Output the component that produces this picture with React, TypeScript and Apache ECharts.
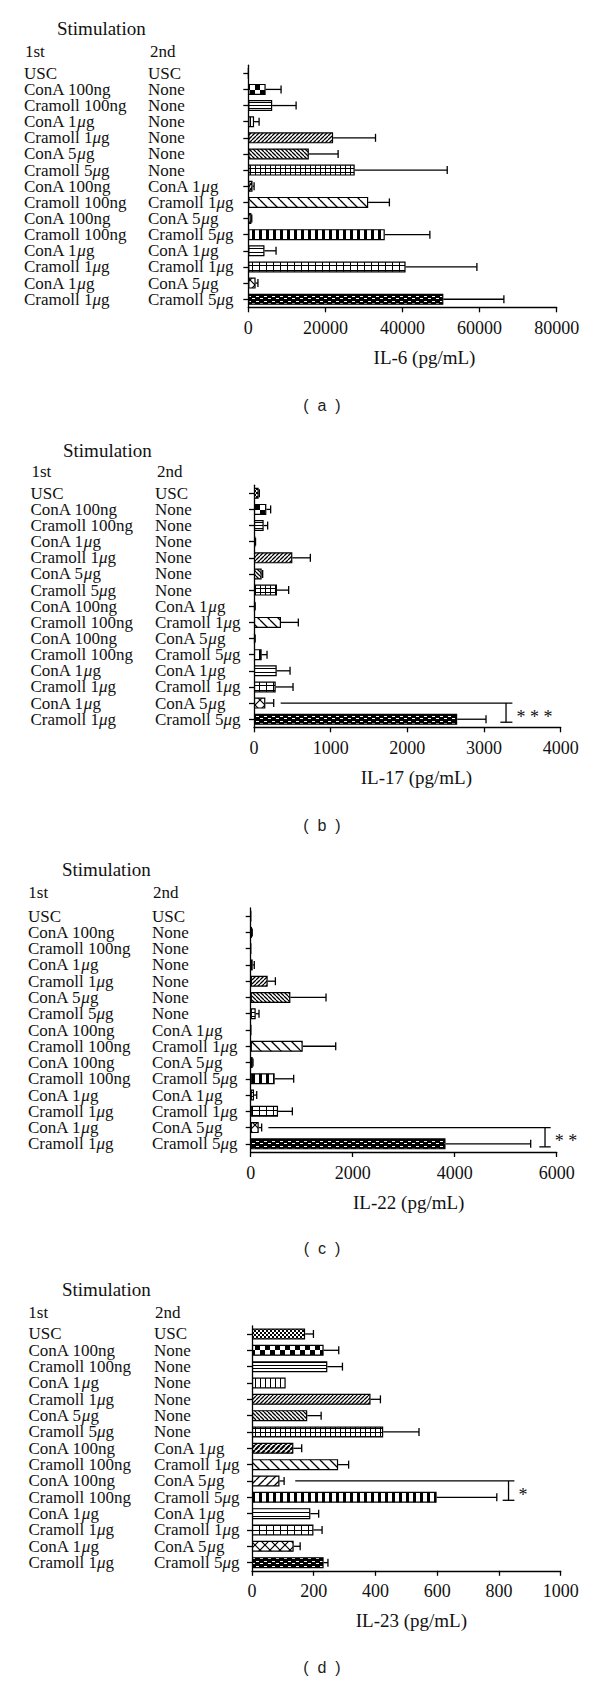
import React, { useEffect, useRef } from "react";
import * as echarts from "echarts";

// ---------- DATA ----------
const firstStim = [
  "USC", "ConA 100ng", "Cramoll 100ng", "ConA 1μg", "Cramoll 1μg", "ConA 5μg", "Cramoll 5μg",
  "ConA 100ng", "Cramoll 100ng", "ConA 100ng", "Cramoll 100ng", "ConA 1μg", "Cramoll 1μg", "ConA 1μg", "Cramoll 1μg",
];
const secondStim = [
  "USC", "None", "None", "None", "None", "None", "None",
  "ConA 1μg", "Cramoll 1μg", "ConA 5μg", "Cramoll 5μg", "ConA 1μg", "Cramoll 1μg", "ConA 5μg", "Cramoll 5μg",
];

const il6Mean = [0, 4500, 6200, 1500, 22000, 15700, 27600, 1100, 31100, 800, 35400, 4200, 40800, 1900, 50600];
const il6Sd = [0, 4000, 6200, 1300, 11000, 7600, 24000, 400, 5500, 100, 11700, 3000, 18500, 600, 15700];

const il17Mean = [61, 161, 126, 17, 500, 100, 300, 13, 352, 13, 100, 296, 283, 148, 2650];
const il17Sd = [9, 56, 52, 3, 235, 13, 152, 2, 226, 2, 70, 174, 226, 109, 376];

const il22Mean = [5, 26, 5, 39, 333, 778, 98, 8, 1020, 39, 470, 65, 536, 157, 3820];
const il22Sd = [0, 4, 0, 31, 151, 699, 65, 0, 647, 6, 373, 53, 281, 58, 1670];

const il23Mean = [172, 232, 244, 109, 384, 179, 425, 134, 279, 89, 598, 189, 199, 135, 232];
const il23Sd = [27, 49, 49, 0, 32, 45, 116, 27, 34, 15, 195, 27, 28, 21, 14];

const axisMax = [80000, 4000, 6000, 1000];
const axisStep = [20000, 1000, 2000, 200];
const axisTitles = ["IL-6 (pg/mL)", "IL-17 (pg/mL)", "IL-22 (pg/mL)", "IL-23 (pg/mL)"];
const panelLetters = ["a", "b", "c", "d"];

// significance brackets
const sigPanel = [1, 2, 3];
const sigFromRow = [13, 13, 9];
const sigToRow = [14, 14, 10];
const sigLineStart = [348, 346, 140];
const sigCapLeft = [3213, 5660, 812];
const sigBracketX = [3287, 5771, 831];
const sigCapRight = [3370, 5882, 850];
const sigLabel = ["* * *", "* *", "*"];

// ---------- LAYOUT / STYLE ----------
const FONT = "'Liberation Serif', 'Times New Roman', serif";
const INK = "#111";
const LAYOUT = [
  { left: 248.3, width: 308.4, top: 65.2, height: 242.1, col1: 24, col2: 148, stimX: 57, stimY: 30, headY: 53, h1: 25, h2: 150, shift: 22, letterY: 405 },
  { left: 254, width: 306.7, top: 485.2, height: 242.1, col1: 30.5, col2: 155, stimX: 63, stimY: 452, headY: 473, h1: 31.5, h2: 157, shift: 9, letterY: 825 },
  { left: 250.7, width: 306, top: 908, height: 244, col1: 28, col2: 152, stimX: 62, stimY: 871, headY: 894, h1: 28.3, h2: 153, shift: 5, letterY: 1248 },
  { left: 252, width: 308.7, top: 1325.8, height: 245, col1: 28.5, col2: 154, stimX: 62, stimY: 1291, headY: 1314, h1: 28.3, h2: 155, shift: 5, letterY: 1667 },
];

function tile(w: number, h: number, draw: (c: CanvasRenderingContext2D, w: number, h: number) => void) {
  const cv = document.createElement("canvas");
  cv.width = w;
  cv.height = h;
  const ctx = cv.getContext("2d") as CanvasRenderingContext2D;
  ctx.fillStyle = "#fff";
  ctx.fillRect(0, 0, w, h);
  ctx.fillStyle = "#000";
  ctx.strokeStyle = "#000";
  draw(ctx, w, h);
  return { image: cv.toDataURL(), repeat: "repeat", imageWidth: w, imageHeight: h };
}

function diag(ctx: CanvasRenderingContext2D, w: number, h: number, lw: number, forward: boolean) {
  ctx.lineWidth = lw;
  ctx.beginPath();
  for (let k = -1; k <= 1; k++) {
    if (forward) {
      ctx.moveTo(k * w, h);
      ctx.lineTo(k * w + w, 0);
    } else {
      ctx.moveTo(k * w, 0);
      ctx.lineTo(k * w + w, h);
    }
  }
  ctx.stroke();
}

function buildPatterns() {
  return [
    tile(4, 4, (c) => { c.fillRect(0, 0, 2, 2); c.fillRect(2, 2, 2, 2); }),
    tile(10, 10, (c) => { c.fillRect(0, 0, 5, 5); c.fillRect(5, 5, 5, 5); }),
    tile(4, 3, (c) => { c.fillRect(0, 0, 4, 1); }),
    tile(5, 4, (c) => { c.fillRect(0, 0, 1, 4); }),
    tile(4, 4, (c, w, h) => diag(c, w, h, 1.3, true)),
    tile(4, 4, (c, w, h) => diag(c, w, h, 1.3, false)),
    tile(5, 4, (c) => { c.fillRect(0, 0, 1, 4); c.fillRect(0, 0, 5, 1); }),
    tile(5, 5, (c, w, h) => diag(c, w, h, 2.2, true)),
    tile(10, 10, (c, w, h) => diag(c, w, h, 1.3, false)),
    tile(8, 8, (c, w, h) => diag(c, w, h, 1.3, true)),
    tile(7, 4, (c) => { c.fillRect(0, 0, 3, 4); }),
    tile(4, 4, (c) => { c.fillRect(0, 0, 4, 1); }),
    tile(7, 5, (c) => { c.fillRect(0, 0, 1, 5); c.fillRect(0, 0, 7, 1); }),
    tile(10, 10, (c, w, h) => { diag(c, w, h, 1.2, true); diag(c, w, h, 1.2, false); }),
    tile(8, 5, (c) => {
      c.fillRect(0, 0, 8, 5);
      c.fillStyle = "#fff";
      c.fillRect(0, 1, 3, 1);
      c.fillRect(4, 3, 3, 1);
    }),
  ];
}

const muRich = (s: string) => s.replace(/μ/g, "{i|μ}");

function errRender(params: any, api: any) {
  const m = api.value(0);
  const u = api.value(1);
  const r = api.value(2);
  const p0 = api.coord([m, r]);
  const p1 = api.coord([u, r]);
  const st = { stroke: "#000", lineWidth: 1.3 };
  return {
    type: "group",
    children: [
      { type: "line", shape: { x1: p0[0], y1: p0[1], x2: p1[0], y2: p1[1] }, style: st },
      { type: "line", shape: { x1: p1[0], y1: p1[1] - 4, x2: p1[0], y2: p1[1] + 4 }, style: st },
    ],
  };
}

function sigRender(label: string) {
  return (params: any, api: any) => {
    const ls = api.value(0);
    const cl = api.value(1);
    const bx = api.value(2);
    const cr = api.value(3);
    const fr = api.value(4);
    const tr = api.value(5);
    const a = api.coord([ls, fr]);
    const b = api.coord([cr, fr]);
    const c = api.coord([bx, tr]);
    const d = api.coord([cl, tr]);
    const e = api.coord([cr, tr]);
    const yb = c[1] + 3;
    const st = { stroke: "#000", lineWidth: 1.3 };
    return {
      type: "group",
      children: [
        { type: "line", shape: { x1: a[0], y1: a[1], x2: b[0], y2: b[1] }, style: st },
        { type: "line", shape: { x1: c[0], y1: a[1], x2: c[0], y2: yb }, style: st },
        { type: "line", shape: { x1: d[0], y1: yb, x2: e[0], y2: yb }, style: st },
        {
          type: "text",
          x: e[0] + 4,
          y: (a[1] + yb) / 2 + 4,
          style: { text: label, fill: INK, font: `18px ${FONT}`, align: "left", verticalAlign: "middle" },
        },
      ],
    };
  };
}

export default function App() {
  const ref = useRef<HTMLDivElement>(null);

  useEffect(() => {
    if (!ref.current) return;
    const chart = echarts.init(ref.current, undefined, { renderer: "svg" });
    const patterns = buildPatterns();
    const means = [il6Mean, il17Mean, il22Mean, il23Mean];
    const sds = [il6Sd, il17Sd, il22Sd, il23Sd];
    const cats = firstStim.map((_, i) => String(i));

    const grids: any[] = [];
    const xAxes: any[] = [];
    const yAxes: any[] = [];
    const series: any[] = [];
    const graphics: any[] = [];
    const axisLineStyle = { color: "#000", width: 1.3 };

    LAYOUT.forEach((L, p) => {
      grids.push({ left: L.left, top: L.top, width: L.width, height: L.height, containLabel: false, outerBoundsMode: "none" });
      xAxes.push({
        type: "value",
        gridIndex: p,
        min: 0,
        max: axisMax[p],
        interval: axisStep[p],
        axisLine: { show: true, lineStyle: axisLineStyle },
        axisTick: { show: true, length: 5, inside: false, lineStyle: axisLineStyle },
        splitLine: { show: false },
        axisLabel: { color: INK, fontFamily: FONT, fontSize: 18, margin: 11.5, formatter: (v: number) => String(v) },
        name: axisTitles[p],
        nameLocation: "middle",
        nameGap: 50,
        nameTextStyle: { color: INK, fontFamily: FONT, fontSize: 19, verticalAlign: "middle", padding: [0, 0, 0, L.shift * 2] },
      });
      // main category axis (2nd stimulation labels)
      yAxes.push({
        type: "category",
        gridIndex: p,
        position: "left",
        inverse: true,
        data: cats,
        axisLine: { show: true, lineStyle: axisLineStyle },
        axisTick: { show: true, alignWithLabel: true, length: 5, lineStyle: axisLineStyle },
        axisLabel: {
          interval: 0,
          align: "left",
          margin: L.left - L.col2,
          color: INK,
          fontFamily: FONT,
          fontSize: 17,
          formatter: (_v: string, i: number) => muRich(secondStim[i]),
          rich: { i: { fontStyle: "italic", fontFamily: FONT, fontSize: 17, color: INK } },
        },
        splitLine: { show: false },
      });
      // label-only axis (1st stimulation labels)
      yAxes.push({
        type: "category",
        gridIndex: p,
        position: "left",
        inverse: true,
        data: cats,
        axisLine: { show: false },
        axisTick: { show: false },
        axisLabel: {
          interval: 0,
          align: "left",
          margin: L.left - L.col1,
          color: INK,
          fontFamily: FONT,
          fontSize: 17,
          formatter: (_v: string, i: number) => muRich(firstStim[i]),
          rich: { i: { fontStyle: "italic", fontFamily: FONT, fontSize: 17, color: INK } },
        },
        splitLine: { show: false },
      });

      series.push({
        type: "bar",
        xAxisIndex: p,
        yAxisIndex: 2 * p,
        barWidth: 11,
        silent: true,
        encode: { x: 0, y: 1 },
        itemStyle: { borderColor: "#000", borderWidth: 1.2 },
        data: means[p].map((v, i) => ({ value: [v, i], itemStyle: { color: patterns[i] } })),
      });
      series.push({
        type: "custom",
        xAxisIndex: p,
        yAxisIndex: 2 * p,
        silent: true,
        clip: false,
        encode: { x: [0, 1], y: 2 },
        renderItem: errRender,
        data: means[p].map((v, i) => [v, v + sds[p][i], i]).filter((d) => d[1] > d[0]),
      });

      graphics.push(
        { type: "text", left: L.stimX, top: L.stimY - 11, style: { text: "Stimulation", fill: INK, font: `19px ${FONT}` } },
        { type: "text", left: L.h1, top: L.headY - 10, style: { text: "1st", fill: INK, font: `17px ${FONT}` } },
        { type: "text", left: L.h2, top: L.headY - 10, style: { text: "2nd", fill: INK, font: `17px ${FONT}` } },
        {
          type: "text",
          x: 322,
          y: L.letterY,
          style: { text: `(  ${panelLetters[p]}  )`, fill: "#222", font: "16px 'Liberation Sans', Arial, sans-serif", align: "center", verticalAlign: "middle" },
        }
      );
    });

    sigPanel.forEach((p, k) => {
      series.push({
        type: "custom",
        xAxisIndex: p,
        yAxisIndex: 2 * p,
        silent: true,
        clip: false,
        encode: { x: [0, 1, 2, 3], y: [4, 5] },
        renderItem: sigRender(sigLabel[k]),
        data: [[sigLineStart[k], sigCapLeft[k], sigBracketX[k], sigCapRight[k], sigFromRow[k], sigToRow[k]]],
      });
    });

    chart.setOption({
      animation: false,
      backgroundColor: "#fff",
      textStyle: { fontFamily: FONT },
      grid: grids,
      xAxis: xAxes,
      yAxis: yAxes,
      series,
      graphic: graphics,
    });

    return () => chart.dispose();
  }, []);

  return (
    <div
      ref={ref}
      style={{ position: "absolute", left: 0, top: 0, width: 600, height: 1681, background: "#fff" }}
    />
  );
}
